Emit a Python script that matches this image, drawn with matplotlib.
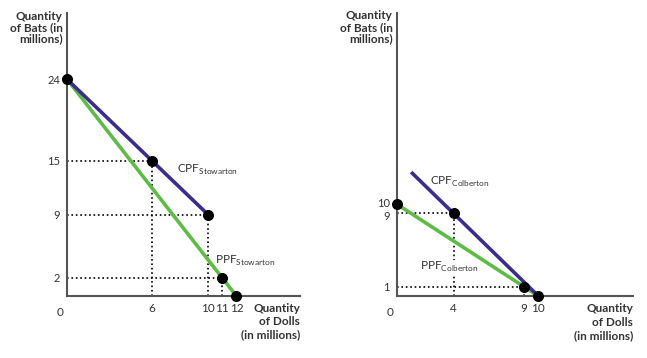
import matplotlib.pyplot as plt
import matplotlib.transforms as mtransforms

plt.rcParams['font.family'] = ['Lato', 'DejaVu Sans']

# Stowarton (left panel)
s_cpf_x = [0, 6, 10]
s_cpf_y = [24, 15, 9]
s_ppf_x = [0, 11, 12]
s_ppf_y = [24, 2, 0]
s_pts_x = [0, 6, 10, 11, 12]
s_pts_y = [24, 15, 9, 2, 0]
s_xticks = [6, 10, 11, 12]
s_yticks = [24, 15, 9, 2]

# Colberton (right panel)
c_cpf_x = [1, 4, 10]
c_cpf_y = [13.5, 9, 0]
c_ppf_x = [0, 9, 10]
c_ppf_y = [10, 1, 0]
c_pts_x = [0, 4, 9, 10]
c_pts_y = [10, 9, 1, 0]
c_xticks = [4, 9, 10]
c_yticks = [10, 9, 1]

purple = '#3b2c8e'
green = '#5dbb46'
txt = '#333333'

fig = plt.figure(figsize=(6.47, 3.58), dpi=100)
ax1 = fig.add_axes([0.1036, 0.173, 0.360, 0.790])
ax2 = fig.add_axes([0.6136, 0.173, 0.365, 0.790])


def setup(ax, xmax, ymax, xticks, yticks):
    ax.set_xlim(0, xmax)
    ax.set_ylim(0, ymax)
    for s in ['top', 'right']:
        ax.spines[s].set_visible(False)
    for s in ['left', 'bottom']:
        ax.spines[s].set_color('#555555')
        ax.spines[s].set_linewidth(1.5)
    ax.set_xticks(xticks)
    ax.set_yticks(yticks)
    ax.tick_params(length=0, colors=txt, pad=5)
    ax.tick_params(axis='x', labelsize=8.5)
    ax.tick_params(axis='y', labelsize=8)
    ax.text(-0.5, -1.2, '0', ha='center', va='top', fontsize=8.5, color=txt,
            clip_on=False)
    ax.text(-0.3, ymax + 0.3, 'Quantity\nof Bats (in\nmillions)', ha='right', va='top',
            fontsize=8.5, fontweight='bold', color=txt, linespacing=1.05, clip_on=False)
    # x label, one line per text so it sits snug beside the tick labels
    for i, line in enumerate(['Quantity', 'of Dolls', '(in millions)']):
        ax.text(xmax, -0.8 - i * 1.45, line, ha='right', va='top',
                fontsize=8.5, fontweight='bold', color=txt, clip_on=False)


def guides(ax, xs, ys):
    for x, y in zip(xs, ys):
        ax.plot([0, x], [y, y], ':', color='black', lw=1.2)
        ax.plot([x, x], [0, y], ':', color='black', lw=1.2)


setup(ax1, 16.5, 31.3, s_xticks, s_yticks)
guides(ax1, s_pts_x[1:4], s_pts_y[1:4])
ax1.plot(s_ppf_x, s_ppf_y, color=green, lw=2.6, solid_capstyle='butt')
ax1.plot(s_cpf_x, s_cpf_y, color=purple, lw=2.6, solid_capstyle='butt')
ax1.scatter(s_pts_x, s_pts_y, s=48, color='black', zorder=5, clip_on=False)
ax1.text(7.8, 13.6, r'CPF$_{\mathregular{Stowarton}}$', fontsize=8.5, color=txt)
ax1.text(10.5, 3.6, r'PPF$_{\mathregular{Stowarton}}$', fontsize=8.5, color=txt)

setup(ax2, 16.7, 30.8, c_xticks, c_yticks)
guides(ax2, c_pts_x[1:3], c_pts_y[1:3])
ax2.plot(c_ppf_x, c_ppf_y, color=green, lw=2.6, solid_capstyle='butt')
ax2.plot(c_cpf_x, c_cpf_y, color=purple, lw=2.6, solid_capstyle='butt')
ax2.scatter(c_pts_x, c_pts_y, s=48, color='black', zorder=5, clip_on=False)
ax2.text(2.3, 12.1, r'CPF$_{\mathregular{Colberton}}$', fontsize=8.5, color=txt)
ax2.text(1.6, 2.8, r'PPF$_{\mathregular{Colberton}}$', fontsize=8.5, color=txt,
         bbox=dict(facecolor='white', edgecolor='none', pad=0.5), zorder=4)

# the 10 and 9 labels sit close together: nudge them apart a little
ylabels = ax2.get_yticklabels()
for lab, dy in zip(ylabels, [1.5, -1.5, 0]):
    lab.set_transform(lab.get_transform() +
                      mtransforms.ScaledTranslation(0, dy / 72, fig.dpi_scale_trans))

fig.savefig('out.png', dpi=100)
